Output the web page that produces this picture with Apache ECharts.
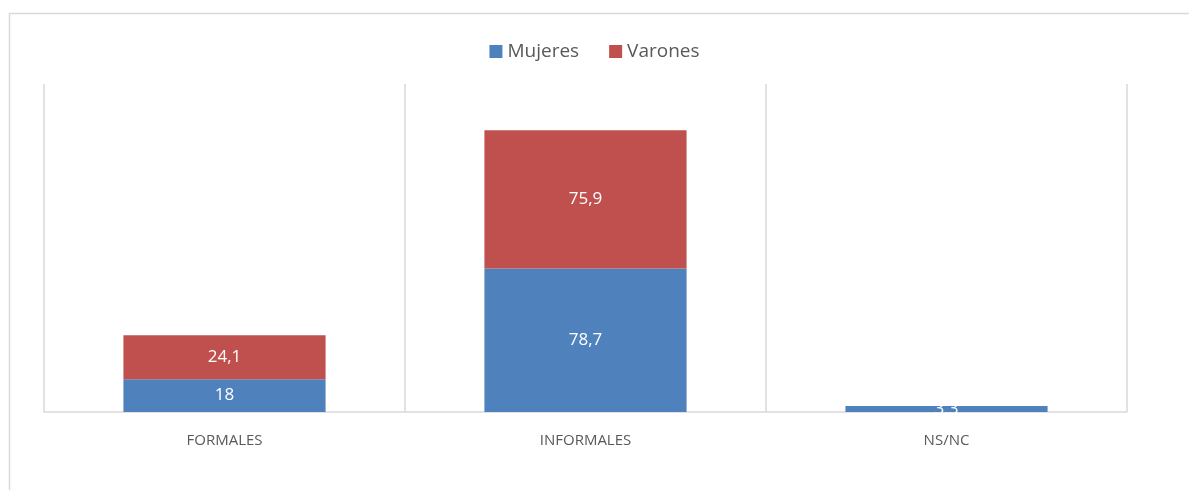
<!DOCTYPE html>
<html><head><meta charset="utf-8">
<script src="https://cdn.jsdelivr.net/npm/echarts@6/dist/echarts.min.js"></script>
<style>html,body{margin:0;padding:0;background:#fff}#c{width:1189px;height:490px}</style>
</head><body><div id="c"></div>
<script>
const categories = ["FORMALES", "INFORMALES", "NS/NC"];
const mujeres = [18, 78.7, 3.3];
const varones = [24.1, 75.9, 0];
const seriesNames = ["Mujeres", "Varones"];

const chart = echarts.init(document.getElementById('c'));
const fmt = p => p.value ? String(p.value).replace('.', ',') : '';
const labelStyle = {show: true, position: 'inside', color: '#fff', fontSize: 17, fontFamily: 'Open Sans', formatter: fmt};
chart.setOption({
  animation: false,
  graphic: [{type: 'rect', shape: {x: 9.5, y: 13.5, width: 1200, height: 500}, style: {fill: 'none', stroke: '#d9d9d9', lineWidth: 1.5}, z: -1}],
  legend: {top: 37, left: 'center', itemWidth: 13, itemHeight: 13, itemGap: 30, icon: 'rect',
    textStyle: {color: '#595959', fontSize: 19, fontFamily: 'Open Sans'}, data: seriesNames},
  grid: {left: 44, right: 62, top: 84, bottom: 78},
  xAxis: {type: 'category', data: categories,
    axisLine: {lineStyle: {color: '#d9d9d9', width: 1.5}}, axisTick: {show: false},
    splitLine: {show: true, lineStyle: {color: '#d9d9d9', width: 1.5}},
    axisLabel: {color: '#595959', fontSize: 15, fontFamily: 'Open Sans', margin: 21}},
  yAxis: {type: 'value', min: 0, max: 180, show: false, splitLine: {show: false}},
  series: [
    {name: seriesNames[0], type: 'bar', stack: 't', data: mujeres, barWidth: '56%', itemStyle: {color: '#4F81BD'}, label: labelStyle},
    {name: seriesNames[1], type: 'bar', stack: 't', data: varones, barWidth: '56%', itemStyle: {color: '#C0504D'}, label: labelStyle}
  ]
});
</script></body></html>
